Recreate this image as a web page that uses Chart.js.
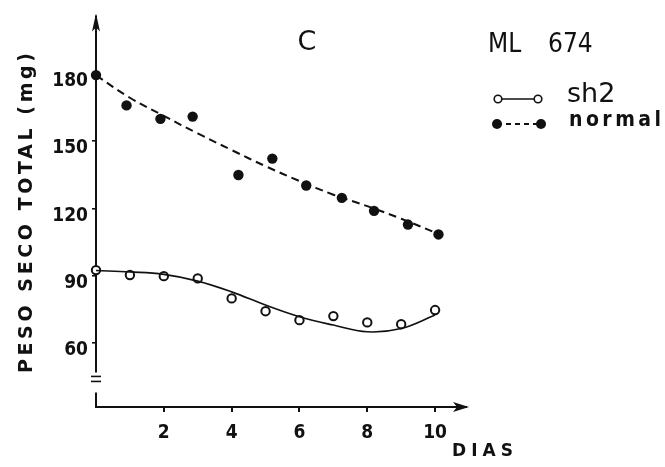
<!DOCTYPE html>
<html>
<head>
<meta charset="utf-8">
<title>ML 674 - peso seco total</title>
<script src="https://cdn.jsdelivr.net/npm/chart.js@4.4.0/dist/chart.umd.min.js"></script>
<style>
  html, body { margin: 0; padding: 0; background: #fff; }
  #wrap { width: 665px; height: 467px; }
</style>
</head>
<body>
<div id="wrap"><canvas id="chart" width="665" height="467"></canvas></div>
<script>
// ---------------- Data ----------------
const xTicks = [2, 4, 6, 8, 10];
const yTicks = [60, 90, 120, 150, 180];

// sh2 (open circles) and its fitted curve
const sh2Days = [0, 1, 2, 3, 4, 5, 6, 7, 8, 9, 10];
const sh2Values = [92.6, 90.4, 89.9, 88.9, 80.0, 74.3, 70.3, 72.1, 69.3, 68.5, 74.8];
const sh2FitDays = [0, 1, 2, 3, 4, 5, 6, 7, 8, 9, 10];
const sh2FitValues = [92.4, 91.8, 90.7, 87.7, 82.9, 77.0, 71.8, 68.1, 65.1, 66.6, 72.6];

// normal (filled dots) and its dashed curve
const normalDays = [0, 0.9, 1.9, 2.85, 4.2, 5.2, 6.2, 7.25, 8.2, 9.2, 10.1];
const normalValues = [179.5, 166, 160, 161, 135, 142.3, 130.3, 124.8, 119, 112.9, 108.5];
const normalFitDays = [0, 1, 2, 3, 4, 5, 6, 7, 8, 9, 10.1];
const normalFitValues = [179.4, 169.4, 161.3, 153.5, 146.1, 138.9, 132.3, 126.2, 121.1, 115.5, 108.7];

const pts = (xs, ys) => xs.map((x, i) => ({ x, y: ys[i] }));

const INK = '#111';
const numFont = '"DejaVu Sans Condensed", "Liberation Sans Narrow", "DejaVu Sans", sans-serif';

// text stretched to a given width via letter spacing
function spreadText(ctx, text, x, y, width) {
  ctx.letterSpacing = '0px';
  const w = ctx.measureText(text).width;
  ctx.letterSpacing = ((width - w) / (text.length - 1)).toFixed(2) + 'px';
  ctx.fillText(text, x, y);
  ctx.letterSpacing = '0px';
}

// ---------------- Axes, labels and legend ----------------
const paperArt = {
  id: 'paperArt',
  beforeDatasetsDraw(chart) {
    const { ctx, scales: { x, y } } = chart;
    const ax = x.getPixelForValue(0);
    const base = y.bottom;
    ctx.save();
    ctx.strokeStyle = INK;
    ctx.fillStyle = INK;
    ctx.lineWidth = 2;
    ctx.lineCap = 'butt';

    // y axis with break
    const breakTop = y.getPixelForValue(47);
    ctx.beginPath();
    ctx.moveTo(ax, y.top);
    ctx.lineTo(ax, breakTop);
    ctx.stroke();
    ctx.lineWidth = 1.6;
    [breakTop + 4, breakTop + 9].forEach(h => {
      ctx.beginPath();
      ctx.moveTo(ax - 5, h);
      ctx.lineTo(ax + 5, h);
      ctx.stroke();
    });
    ctx.lineWidth = 2;
    ctx.beginPath();
    ctx.moveTo(ax, breakTop + 20);
    ctx.lineTo(ax, base);
    ctx.lineTo(x.right - 2, base);
    ctx.stroke();

    // arrow heads
    ctx.beginPath();
    ctx.moveTo(ax, y.top - 2);
    ctx.lineTo(ax - 4, y.top + 16);
    ctx.lineTo(ax, y.top + 12);
    ctx.lineTo(ax + 4, y.top + 16);
    ctx.closePath();
    ctx.fill();
    ctx.beginPath();
    ctx.moveTo(x.right, base);
    ctx.lineTo(x.right - 16, base - 5);
    ctx.lineTo(x.right - 12, base);
    ctx.lineTo(x.right - 16, base + 5);
    ctx.closePath();
    ctx.fill();
    ctx.restore();
  },
  afterDraw(chart) {
    const { ctx } = chart;
    ctx.save();
    ctx.fillStyle = INK;
    ctx.strokeStyle = INK;
    ctx.textBaseline = 'middle';

    // y axis title, spread along the axis
    ctx.font = 'bold 19px "DejaVu Sans", sans-serif';
    ctx.translate(27, 373);
    ctx.rotate(-Math.PI / 2);
    ctx.textAlign = 'left';
    spreadText(ctx, 'PESO SECO TOTAL (mg)', 0, 0, 320);
    ctx.setTransform(1, 0, 0, 1, 0, 0);

    // x axis title
    ctx.font = 'bold 17px "DejaVu Sans", sans-serif';
    spreadText(ctx, 'DIAS', 452, 452, 61);

    // panel letter and line name
    ctx.font = '27px "DejaVu Sans", sans-serif';
    ctx.textAlign = 'center';
    ctx.fillText('C', 307, 43);
    ctx.textAlign = 'left';
    ctx.font = '26px "DejaVu Sans Condensed", "DejaVu Sans", sans-serif';
    ctx.fillText('ML', 488, 45);
    ctx.fillText('674', 548, 45);

    // legend
    ctx.lineWidth = 1.6;
    ctx.beginPath();
    ctx.moveTo(498, 99);
    ctx.lineTo(538, 99);
    ctx.stroke();
    [498, 538].forEach(cx => {
      ctx.beginPath();
      ctx.arc(cx, 99, 3.8, 0, Math.PI * 2);
      ctx.fillStyle = '#fff';
      ctx.fill();
      ctx.stroke();
    });
    ctx.fillStyle = INK;
    ctx.font = '27px "DejaVu Sans", sans-serif';
    ctx.fillText('sh2', 567, 95);

    ctx.lineWidth = 2;
    ctx.setLineDash([5, 4]);
    ctx.beginPath();
    ctx.moveTo(497, 124);
    ctx.lineTo(541, 124);
    ctx.stroke();
    ctx.setLineDash([]);
    [497, 541].forEach(cx => {
      ctx.beginPath();
      ctx.arc(cx, 124, 5, 0, Math.PI * 2);
      ctx.fill();
    });
    ctx.font = 'bold 21px "DejaVu Sans Condensed", "DejaVu Sans", sans-serif';
    spreadText(ctx, 'normal', 569, 121, 92);
    ctx.restore();
  }
};

// ---------------- Chart ----------------
new Chart(document.getElementById('chart').getContext('2d'), {
  type: 'scatter',
  data: {
    datasets: [
      {
        type: 'line',
        label: 'sh2 ajuste',
        data: pts(sh2FitDays, sh2FitValues),
        borderColor: INK,
        borderWidth: 1.6,
        pointRadius: 0,
        tension: 0.4,
        fill: false,
        clip: false
      },
      {
        type: 'line',
        label: 'normal ajuste',
        data: pts(normalFitDays, normalFitValues),
        borderColor: INK,
        borderWidth: 2,
        borderDash: [8, 5],
        pointRadius: 0,
        tension: 0.4,
        fill: false,
        clip: false
      },
      {
        label: 'sh2',
        data: pts(sh2Days, sh2Values),
        pointRadius: 4.2,
        pointBorderWidth: 2,
        pointBorderColor: INK,
        pointBackgroundColor: '#fff',
        clip: false
      },
      {
        label: 'normal',
        data: pts(normalDays, normalValues),
        pointRadius: 5.2,
        pointBorderWidth: 0,
        pointBackgroundColor: INK,
        clip: false
      }
    ]
  },
  options: {
    responsive: false,
    animation: false,
    layout: { padding: { top: 15, right: 196, left: 0, bottom: 0 } },
    plugins: { legend: { display: false }, tooltip: { enabled: false } },
    scales: {
      x: {
        type: 'linear',
        min: 0,
        max: 11,
        afterFit: s => { s.height = 60; },
        afterBuildTicks: s => { s.ticks = xTicks.map(v => ({ value: v })); },
        border: { display: false },
        grid: { drawOnChartArea: false, drawTicks: true, tickLength: 5, color: INK, lineWidth: 2 },
        ticks: { color: INK, padding: 10, font: { family: numFont, size: 19, weight: 'bold' } }
      },
      y: {
        type: 'linear',
        min: 31.6,
        max: 206.1,
        afterFit: s => { s.width = 96; },
        afterBuildTicks: s => { s.ticks = yTicks.map(v => ({ value: v })); },
        border: { display: false },
        grid: { drawOnChartArea: false, drawTicks: true, tickLength: 4, color: INK, lineWidth: 1.6 },
        ticks: { color: INK, padding: 4, labelOffset: 7, font: { family: numFont, size: 19, weight: 'bold' } }
      }
    }
  },
  plugins: [paperArt]
});
</script>
</body>
</html>
